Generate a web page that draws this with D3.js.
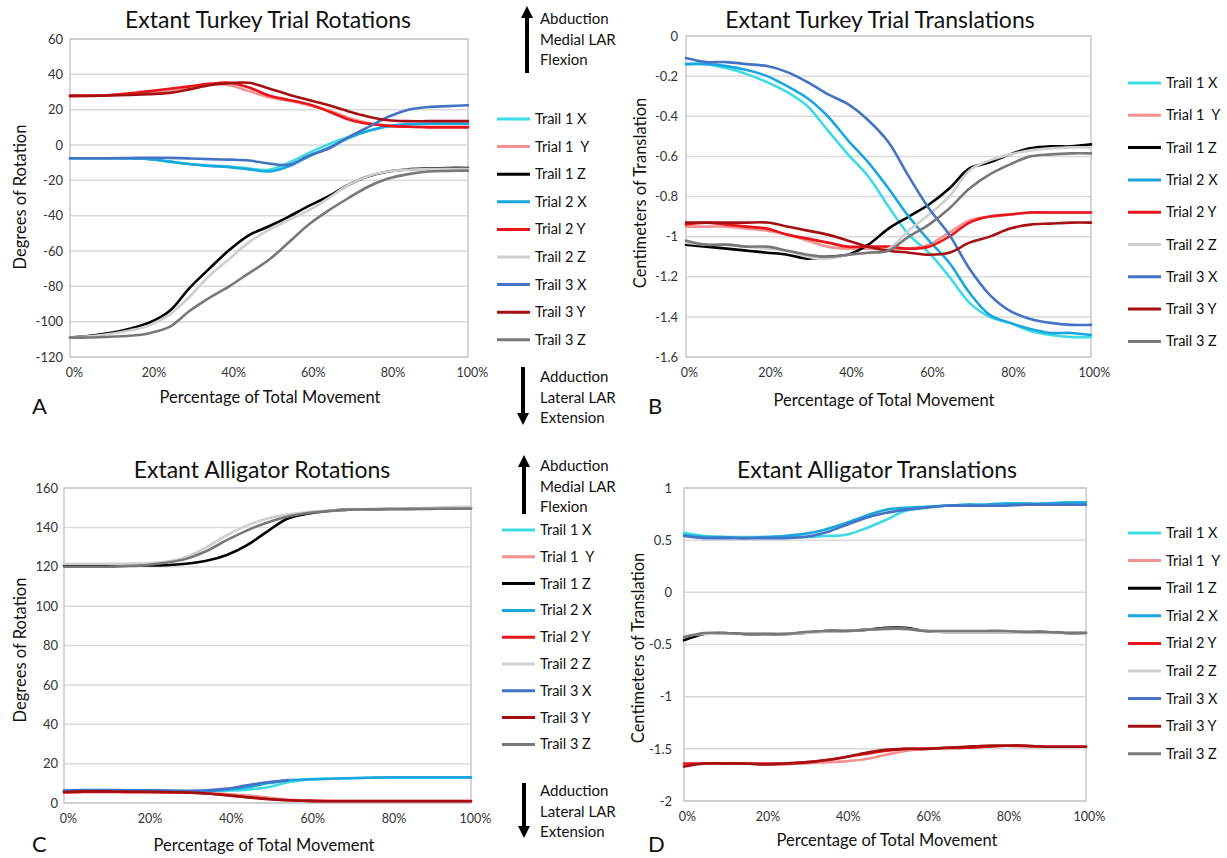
<!DOCTYPE html>
<html><head><meta charset="utf-8">
<script src="https://cdn.jsdelivr.net/npm/d3@7"></script>
<style>body{margin:0;background:#fff}svg{display:block}</style>
</head><body>
<svg id="c" width="1227" height="858"></svg>
<script>
// ---------- shared data ----------
const pct = [0,5,10,15,20,25,30,35,40,45,50,55,60,65,70,75,80,85,90,95,100];
const seriesNames = ["Trail 1 X","Trial 1  Y","Trail 1 Z","Trial 2 X","Trial 2 Y","Trail 2 Z","Trail 3 X","Trail 3 Y","Trail 3 Z"];
const seriesColors = ["#3ddbe3","#f59190","#000000","#1aa6df","#e8141b","#cfcfcf","#4472c4","#a50f12","#787878"];
const xTickValues = [0,20,40,60,80,100];
const xTickLabels = ["0%","20%","40%","60%","80%","100%"];

// ---------- Panel A: turkey rotations ----------
const aTicks = [-120,-100,-80,-60,-40,-20,0,20,40,60];
const aT1X = [-7.5,-7.5,-7.5,-7.5,-8,-9.4,-10.8,-11.7,-12.2,-13.3,-14,-10,-4.5,0.5,4.5,8,10.5,11.5,12,12,12];
const aT1Y = [27.8,27.9,28.2,28.8,29.8,31,32.5,34.5,33.8,30.5,27,25,22.5,19.5,15.5,12.5,11,10.5,10.3,10.3,10.3];
const aT1Z = [-109,-108,-106.5,-104,-100.5,-94,-81,-70,-59.5,-51,-46,-40.5,-34.5,-29,-22.5,-17.7,-15,-13.8,-13.3,-13,-13];
const aT2X = [-7.5,-7.5,-7.5,-7.6,-8,-9.4,-10.8,-11.8,-12.5,-13.8,-15,-12,-6.5,-1.5,4,8,10.8,11.8,12,12,12];
const aT2Y = [27.8,27.9,28.3,29.2,30.5,31.8,33.2,34.6,35.2,32.5,28,25.5,23,19,14.5,12,10.8,10.3,10,10,10];
const aT2Z = [-109,-108.3,-107,-105,-102,-96,-86,-74,-64.5,-55,-48,-42.5,-37,-30,-22.5,-17.5,-15,-14,-13.6,-13.5,-13.5];
const aT3X = [-7.5,-7.5,-7.5,-7.4,-7.2,-7.3,-7.6,-8,-8.3,-8.8,-10.5,-11.2,-6,-2,4.5,10.3,16,20,21.5,22,22.5];
const aT3Y = [27.8,27.8,28,28.3,28.8,29.5,31.5,33.8,35,35.2,32,28.5,25.5,22.5,19,16,14,13.5,13.5,13.5,13.5];
const aT3Z = [-109,-109,-108.5,-108,-106.5,-103,-94,-86.5,-80,-72.5,-65,-55,-45,-37,-30,-23.5,-19,-16.5,-15,-14.7,-14.5];

// ---------- Panel B: turkey translations ----------
const bTicks = [-1.6,-1.4,-1.2,-1,-0.8,-0.6,-0.4,-0.2,0];
const bT1X = [-0.14,-0.14,-0.16,-0.19,-0.23,-0.28,-0.35,-0.47,-0.59,-0.7,-0.85,-0.99,-1.08,-1.2,-1.33,-1.4,-1.43,-1.47,-1.49,-1.5,-1.5];
const bT1Y = [-0.95,-0.95,-0.95,-0.96,-0.97,-0.99,-1.02,-1.05,-1.06,-1.06,-1.06,-1.06,-1.04,-0.98,-0.92,-0.9,-0.89,-0.88,-0.88,-0.88,-0.88];
const bT1Z = [-1.04,-1.05,-1.06,-1.07,-1.08,-1.09,-1.11,-1.1,-1.09,-1.04,-0.96,-0.9,-0.84,-0.76,-0.66,-0.63,-0.59,-0.56,-0.55,-0.55,-0.54];
const bT2X = [-0.14,-0.14,-0.15,-0.17,-0.2,-0.25,-0.31,-0.4,-0.52,-0.63,-0.76,-0.9,-1.02,-1.13,-1.28,-1.39,-1.43,-1.46,-1.48,-1.48,-1.49];
const bT2Y = [-0.94,-0.93,-0.94,-0.95,-0.96,-0.99,-1.01,-1.03,-1.05,-1.05,-1.05,-1.06,-1.05,-1.0,-0.93,-0.9,-0.89,-0.88,-0.88,-0.88,-0.88];
const bT2Z = [-1.03,-1.04,-1.04,-1.05,-1.06,-1.07,-1.1,-1.11,-1.09,-1.08,-1.06,-0.97,-0.89,-0.8,-0.67,-0.62,-0.59,-0.57,-0.56,-0.555,-0.555];
const bT3X = [-0.11,-0.13,-0.13,-0.14,-0.15,-0.18,-0.23,-0.29,-0.34,-0.42,-0.53,-0.7,-0.86,-0.99,-1.16,-1.29,-1.37,-1.41,-1.43,-1.44,-1.44];
const bT3Y = [-0.93,-0.93,-0.93,-0.93,-0.93,-0.95,-0.97,-0.99,-1.02,-1.05,-1.07,-1.08,-1.09,-1.08,-1.03,-1.0,-0.96,-0.94,-0.935,-0.93,-0.93];
const bT3Z = [-1.02,-1.04,-1.04,-1.05,-1.05,-1.07,-1.09,-1.1,-1.09,-1.08,-1.07,-1.0,-0.94,-0.86,-0.76,-0.69,-0.64,-0.6,-0.59,-0.585,-0.585];

// ---------- Panel C: alligator rotations ----------
const cTicks = [0,20,40,60,80,100,120,140,160];
const cT1X = [6,6.3,6.3,6.2,6.2,6.1,6,6,6.3,6.8,8,10.5,12,12.3,12.6,12.8,13,13,13,13,13];
const cT1Y = [5.5,5.8,5.8,5.7,5.7,5.6,5.5,5.2,4.5,3.8,2.8,1.8,1.2,1.1,1,1,1,1,1,1,1];
const cT1Z = [120.5,120.5,120.5,120.6,120.7,120.8,121.5,123,126,131,138,144.5,147,148.3,149,149.2,149.3,149.4,149.5,149.7,150];
const cT2X = [6,6.3,6.3,6.2,6.2,6.1,6,6,6.8,8,10,11.5,12,12.3,12.6,12.8,13,13,13,13,13];
const cT2Y = [5.3,5.6,5.6,5.5,5.5,5.4,5.3,4.8,4,3,2,1.4,1.1,1,1,1,1,1,1,1,1];
const cT2Z = [121.5,121.5,121.5,121.5,121.8,122.5,125,130,136,141,144.5,146.5,147.8,148.5,149,149.3,149.5,149.7,150,150.3,150.5];
const cT3X = [6.3,6.6,6.6,6.5,6.4,6.3,6.2,6.4,7.3,9,10.5,11.6,null,null,null,null,null,null,null,null,null];
const cT3Y = [5.6,5.9,5.9,5.8,5.7,5.6,5.4,4.8,3.9,2.9,2,1.4,1.1,0.9,0.9,0.9,0.9,0.9,0.9,0.9,0.9];
const cT3Z = [120,120,120,120.3,120.8,122,124,128,133.5,138.5,142.5,145.5,147.3,148.3,149,149.2,149.3,149.4,149.4,149.5,149.5];

// ---------- Panel D: alligator translations ----------
const dTicks = [-2,-1.5,-1,-0.5,0,0.5,1];
const dT1X = [0.57,0.54,0.53,0.53,0.53,0.53,0.53,0.54,0.55,0.61,0.69,0.78,0.81,0.83,0.84,0.84,0.85,0.85,0.85,0.86,0.86];
const dT1Y = [-1.65,-1.64,-1.64,-1.64,-1.65,-1.65,-1.64,-1.63,-1.62,-1.6,-1.56,-1.52,-1.5,-1.5,-1.49,-1.48,-1.47,-1.48,-1.48,-1.48,-1.48];
const dT1Z = [-0.46,-0.4,-0.39,-0.4,-0.4,-0.4,-0.39,-0.37,-0.37,-0.36,-0.34,-0.34,-0.37,-0.38,-0.38,-0.38,-0.38,-0.38,-0.38,-0.39,-0.39];
const dT2X = [0.55,0.53,0.53,0.52,0.53,0.54,0.56,0.6,0.66,0.73,0.79,0.81,0.82,0.83,0.84,0.84,0.85,0.85,0.85,0.86,0.86];
const dT2Y = [-1.64,-1.64,-1.64,-1.64,-1.64,-1.64,-1.63,-1.61,-1.58,-1.55,-1.52,-1.5,-1.5,-1.49,-1.49,-1.48,-1.47,-1.47,-1.48,-1.48,-1.48];
const dT2Z = [-0.42,-0.4,-0.4,-0.4,-0.4,-0.4,-0.39,-0.38,-0.37,-0.36,-0.35,-0.35,-0.37,-0.38,-0.38,-0.38,-0.38,-0.38,-0.39,-0.39,-0.4];
const dT3X = [0.54,0.52,0.52,0.52,0.52,0.52,0.53,0.57,0.64,0.71,0.76,0.79,0.81,0.83,0.83,0.83,0.83,0.84,0.84,0.84,0.84];
const dT3Y = [-1.67,-1.64,-1.64,-1.64,-1.65,-1.64,-1.63,-1.61,-1.58,-1.54,-1.51,-1.5,-1.5,-1.49,-1.48,-1.47,-1.47,-1.47,-1.48,-1.48,-1.48];
const dT3Z = [-0.43,-0.39,-0.39,-0.4,-0.4,-0.4,-0.38,-0.37,-0.37,-0.36,-0.35,-0.35,-0.37,-0.37,-0.37,-0.37,-0.37,-0.38,-0.38,-0.39,-0.39];

const arrowUpText = ["Abduction","Medial LAR","Flexion"];
const arrowDownText = ["Adduction","Lateral LAR","Extension"];

// ---------- drawing ----------
const svg = d3.select("#c");
const TITLE_FONT = "Lato, 'Open Sans', sans-serif";
const TICK_FONT = "Lato, 'Liberation Sans', sans-serif";

function fmt(v){ return String(+v.toFixed(2)); }

function panel(cfg){
  const g = svg.append("g");
  const x = d3.scaleLinear().domain([0,100]).range([cfg.x0,cfg.x1]);
  const y = d3.scaleLinear().domain(cfg.domain).range([cfg.y1,cfg.y0]);
  g.append("g").selectAll("line").data(cfg.ticks).join("line")
    .attr("x1",cfg.x0).attr("x2",cfg.x1)
    .attr("y1",d=>y(d)).attr("y2",d=>y(d))
    .attr("stroke","#d9d9d9").attr("stroke-width",1.5);
  g.append("rect").attr("x",cfg.x0).attr("y",cfg.y0)
    .attr("width",cfg.x1-cfg.x0).attr("height",cfg.y1-cfg.y0)
    .attr("fill","none").attr("stroke","#c9c9c9").attr("stroke-width",1.5);
  const ya = d3.axisLeft(y).tickValues(cfg.ticks).tickFormat(fmt).tickSize(0).tickPadding(0);
  const yg = g.append("g").attr("transform",`translate(${cfg.yLabelX},0)`).call(ya);
  yg.select(".domain").remove();
  yg.selectAll("text").attr("font-family",TICK_FONT).attr("font-size",13).attr("fill","#333");
  const xa = d3.axisBottom(x).tickValues(xTickValues).tickFormat((d,i)=>xTickLabels[i]).tickSize(0).tickPadding(0);
  const xg = g.append("g").attr("transform",`translate(${cfg.xLabelDx},${cfg.xLabelY})`).call(xa);
  xg.select(".domain").remove();
  xg.selectAll("text").attr("font-family",TICK_FONT).attr("font-size",12.5).attr("fill","#333");
  const line = d3.line().defined(d=>d[1]!==null).x(d=>x(d[0])).y(d=>y(d[1])).curve(d3.curveCatmullRom.alpha(0.5));
  cfg.series.forEach((s,i)=>{
    g.append("path").datum(pct.map((p,j)=>[p,s[j]]))
      .attr("d",line).attr("fill","none")
      .attr("stroke",seriesColors[i]).attr("stroke-width",2.6)
      .attr("stroke-linejoin","round").attr("stroke-linecap","round");
  });
  g.append("text").attr("x",cfg.titleX).attr("y",cfg.titleY)
    .attr("text-anchor","middle").attr("font-family",TITLE_FONT).attr("font-size",23)
    .attr("fill","#111").text(cfg.title);
  g.append("text").attr("x",cfg.xTitleX).attr("y",cfg.xTitleY)
    .attr("text-anchor","middle").attr("font-family",TITLE_FONT).attr("font-size",16.5)
    .attr("fill","#111").text("Percentage of Total Movement");
  g.append("text").attr("transform",`translate(${cfg.yTitleX},${cfg.yTitleY}) rotate(-90)`)
    .attr("text-anchor","middle").attr("font-family",TITLE_FONT).attr("font-size",16.5)
    .attr("fill","#111").text(cfg.yTitle);
  g.append("text").attr("x",cfg.letterX).attr("y",cfg.letterY)
    .attr("font-family",TITLE_FONT).attr("font-size",22).attr("fill","#111").text(cfg.letter);
  const lg = g.append("g");
  seriesNames.forEach((n,i)=>{
    const yy = cfg.legY + i*cfg.legDy;
    lg.append("line").attr("x1",cfg.legX).attr("x2",cfg.legX+33).attr("y1",yy).attr("y2",yy)
      .attr("stroke",seriesColors[i]).attr("stroke-width",3);
    lg.append("text").attr("x",cfg.legX+38).attr("y",yy).attr("dy","0.35em")
      .attr("font-family",TITLE_FONT).attr("font-size",14.5).attr("fill","#111")
      .attr("xml:space","preserve").text(n);
  });
}

function arrow(x, yTail, yTip, textX, textY0, lines){
  const dir = yTip < yTail ? -1 : 1;
  svg.append("line").attr("x1",x).attr("x2",x).attr("y1",yTail).attr("y2",yTip - dir*10)
    .attr("stroke","#000").attr("stroke-width",4);
  svg.append("path").attr("d",`M${x-6},${yTip-dir*12}L${x+6},${yTip-dir*12}L${x},${yTip}Z`).attr("fill","#000");
  lines.forEach((t,i)=>{
    svg.append("text").attr("x",textX).attr("y",textY0+i*20.5).attr("dy","0.35em")
      .attr("font-family",TITLE_FONT).attr("font-size",15).attr("fill","#111").text(t);
  });
}

panel({x0:70,x1:468,y0:39,y1:357,domain:[-120,60],ticks:aTicks,yLabelX:63,xLabelDx:4,xLabelY:368,
  series:[aT1X,aT1Y,aT1Z,aT2X,aT2Y,aT2Z,aT3X,aT3Y,aT3Z],
  title:"Extant Turkey Trial Rotations",titleX:268,titleY:28,
  xTitleX:270,xTitleY:403,yTitle:"Degrees of Rotation",yTitleX:26,yTitleY:197,
  letter:"A",letterX:32,letterY:414,legX:497,legY:119,legDy:27.6});

panel({x0:686,x1:1091,y0:36,y1:357,domain:[-1.6,0],ticks:bTicks,yLabelX:678,xLabelDx:3,xLabelY:368,
  series:[bT1X,bT1Y,bT1Z,bT2X,bT2Y,bT2Z,bT3X,bT3Y,bT3Z],
  title:"Extant Turkey Trial Translations",titleX:880,titleY:28,
  xTitleX:884,xTitleY:406,yTitle:"Centimeters of Translation",yTitleX:646,yTitleY:193,
  letter:"B",letterX:648,letterY:414,legX:1128,legY:83,legDy:32.3});

panel({x0:64,x1:471,y0:488,y1:803,domain:[0,160],ticks:cTicks,yLabelX:58,xLabelDx:4,xLabelY:814,
  series:[cT1X,cT1Y,cT1Z,cT2X,cT2Y,cT2Z,cT3X,cT3Y,cT3Z],
  title:"Extant Alligator Rotations",titleX:262,titleY:478,
  xTitleX:264,xTitleY:851,yTitle:"Degrees of Rotation",yTitleX:26,yTitleY:650,
  letter:"C",letterX:32,letterY:852,legX:502,legY:530,legDy:26.8});

panel({x0:684,x1:1086,y0:488,y1:801,domain:[-2,1],ticks:dTicks,yLabelX:672,xLabelDx:3,xLabelY:812,
  series:[dT1X,dT1Y,dT1Z,dT2X,dT2Y,dT2Z,dT3X,dT3Y,dT3Z],
  title:"Extant Alligator Translations",titleX:877,titleY:478,
  xTitleX:887,xTitleY:846,yTitle:"Centimeters of Translation",yTitleX:644,yTitleY:648,
  letter:"D",letterX:648,letterY:852,legX:1128,legY:533,legDy:27.6});

arrow(527,73,6,540,19,arrowUpText);
arrow(523,367,425,540,377,arrowDownText);
arrow(524,514,455,540,466,arrowUpText);
arrow(524,783,838,540,791,arrowDownText);
</script>
</body></html>
